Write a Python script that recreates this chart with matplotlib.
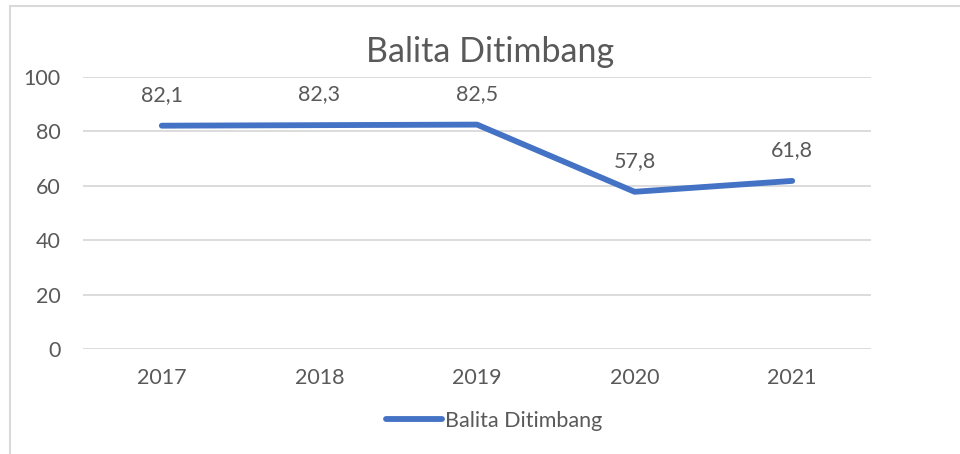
import matplotlib
matplotlib.use("Agg")
import matplotlib.pyplot as plt
from matplotlib.patches import Rectangle

years = ["2017", "2018", "2019", "2020", "2021"]
values = [82.1, 82.3, 82.5, 57.8, 61.8]
series_name = "Balita Ditimbang"
y_ticks = [0, 20, 40, 60, 80, 100]

W, H = 960, 454
text_color = "#595959"
line_color = "#4472C4"
grid_color = "#D9D9D9"

plt.rcParams["font.family"] = ["Lato", "DejaVu Sans"]

fig = plt.figure(figsize=(W / 100, H / 100), dpi=100)
ax = fig.add_axes([83 / W, (H - 349) / H, (871 - 83) / W, (349 - 77) / H])

# outer chart border (only top and left edges are visible in the crop)
fig.patches.append(Rectangle((9.5 / W, -1), 2, 1 + (H - 6.5) / H, transform=fig.transFigure,
                             fill=False, edgecolor=grid_color, linewidth=1.5))

x = list(range(len(years)))
ax.plot(x, values, color=line_color, linewidth=4.2, solid_capstyle="round",
        label=series_name)

for xi, v in zip(x, values):
    ax.annotate(f"{v:.1f}".replace(".", ","), (xi, v), xytext=(0, 31),
                textcoords="offset pixels", ha="center", va="center",
                fontsize=15.5, color=text_color)

ax.set_xlim(-0.5, len(years) - 0.5)
ax.set_ylim(0, 100)
ax.set_yticks(y_ticks)
ax.set_xticks(x)
ax.set_xticklabels(years)
ax.tick_params(axis="both", length=0, labelsize=15.5, labelcolor=text_color)
ax.tick_params(axis="y", pad=16)
ax.tick_params(axis="x", pad=14)
ax.grid(axis="y", color=grid_color, linewidth=1.3)
ax.set_axisbelow(True)
for s in ax.spines.values():
    s.set_visible(False)

fig.text(490 / W, 1 - 52 / H, series_name, ha="center", va="center",
         fontsize=24.5, color=text_color)

leg = fig.legend(loc="center", bbox_to_anchor=(494 / W, 1 - 421 / H), frameon=False,
                 fontsize=15.5, labelcolor=text_color, handlelength=2.6,
                 handletextpad=0.15)

fig.savefig("out.png", dpi=100, facecolor="white")
